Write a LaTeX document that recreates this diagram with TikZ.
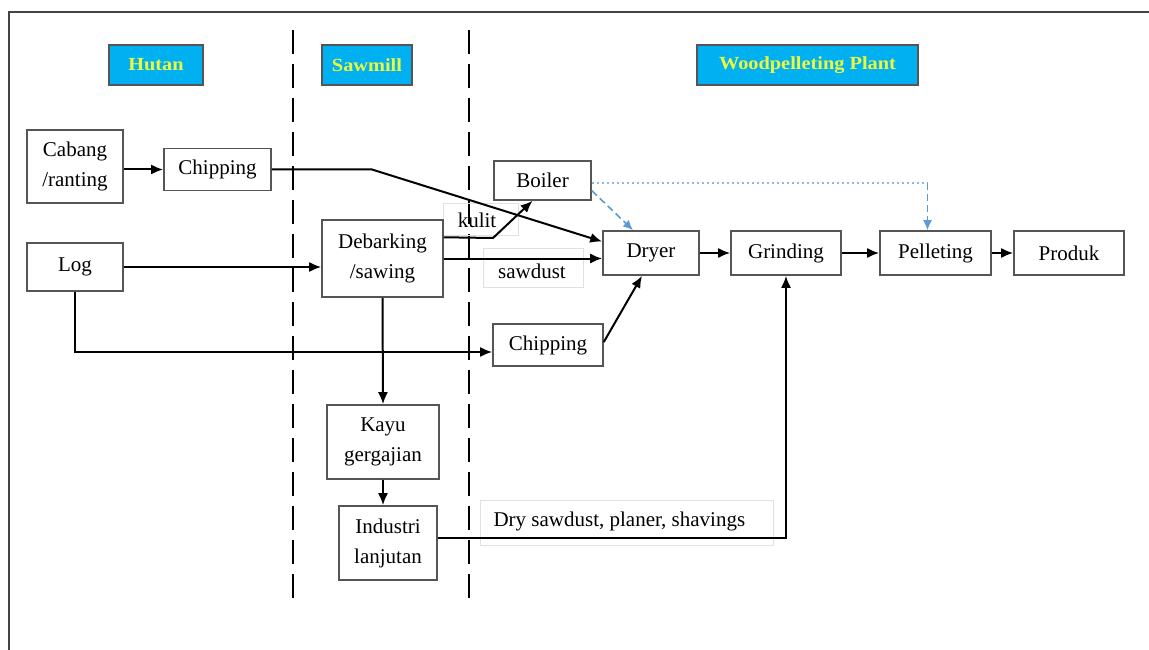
\documentclass[tikz,border=0pt]{standalone}
\usepackage{fontspec}
\setmainfont{Liberation Serif}
\usepackage{graphicx}
\usetikzlibrary{arrows.meta,calc}
\definecolor{hdrfill}{RGB}{0,176,240}
\definecolor{hdrtext}{RGB}{238,248,60}
\definecolor{boxline}{RGB}{85,85,85}
\definecolor{bluedash}{RGB}{91,155,213}
\definecolor{faint}{RGB}{225,225,225}
\tikzset{
  every node/.style={font=\fontsize{21}{30}\selectfont},
  pbox/.style={draw=boxline, line width=1.6pt, fill=white, inner sep=0pt, align=center},
  hdr/.style={draw=boxline, line width=1.5pt, fill=hdrfill, text=hdrtext, inner sep=0pt,
    minimum height=40pt, font=\fontsize{18.5}{20}\selectfont\bfseries},
  conn/.style={line width=2pt, -{Latex[length=12pt,width=10pt]}},
  sep/.style={line width=2.5pt, dash pattern=on 24pt off 10pt},
  lbl/.style={draw=faint, line width=0.8pt, inner sep=0pt},
  bluearrow/.style={bluedash, line width=1.6pt, dash pattern=on 7pt off 4pt, -{Latex[length=10pt,width=9pt]}},
  bluedot/.style={bluedash!70, line width=1.5pt, dash pattern=on 2pt off 3pt}
}
\begin{document}
\begin{tikzpicture}[x=1pt,y=-1pt]
\useasboundingbox (0,0) rectangle (1149,650);
% frame
\draw[boxline!80!black, line width=2.2pt] (9,650) -- (9,12) -- (1149,12);
% separators
\draw[sep] (293,30) -- (293,605);
\draw[sep] (469,30) -- (469,605);
% headers
\node[hdr, minimum width=94pt] (hhutan) at (156,65) {\scalebox{1.1}[1]{Hutan}};
\node[hdr, minimum width=90pt] (hsaw) at (367,65) {\scalebox{1.1}[1]{Sawmill}};
\node[hdr, minimum width=221pt] (hwood) at (807.5,65) {\scalebox{1.1}[1]{Woodpelleting Plant}};
% label boxes (behind)
\node[lbl, minimum width=75pt, minimum height=32pt] (lkulitbox) at (480.5,219) {};
\node at (477,220) (lkulit) {kulit};
\node[lbl, minimum width=100pt, minimum height=39pt] (lsawbox) at (533,267.5) {};
\node at (532,271) (lsaw) {sawdust};
\node[lbl, minimum width=293pt, minimum height=45pt] (ldrybox) at (626.5,522.5) {};
\node[anchor=west] (ldry) at (490,521) {Dry sawdust, planer, shavings};
% process boxes
\node[pbox, minimum width=96pt, minimum height=73pt] (cabang) at (75,166.5) {Cabang\\/ranting};
\node[pbox, minimum width=107pt, minimum height=42pt] (chipa) at (217.5,169.5) {Chipping};
\node[pbox, minimum width=96pt, minimum height=48pt] (log) at (75,267) {Log};
\node[pbox, minimum width=121pt, minimum height=77pt] (deb) at (382.5,258.5) {Debarking\\/sawing};
\node[pbox, minimum width=97pt, minimum height=39pt] (boiler) at (542.5,180.5) {Boiler};
\node[pbox, minimum width=96pt, minimum height=44pt] (dryer) at (651,253) {Dryer};
\node[pbox, minimum width=110pt, minimum height=44pt] (grind) at (786,253) {Grinding};
\node[pbox, minimum width=111pt, minimum height=44pt] (pellet) at (935.5,253) {Pelleting};
\node[pbox, minimum width=110pt, minimum height=44pt] (produk) at (1069,253) {Produk};
\node[pbox, minimum width=110pt, minimum height=42pt] (chipb) at (548,345) {Chipping};
\node[pbox, minimum width=112pt, minimum height=74pt] (kayu) at (383,442) {Kayu\\gergajian};
\node[pbox, minimum width=98pt, minimum height=74pt] (ind) at (388,543) {Industri\\lanjutan};
% connectors
\draw[conn] (cabang.east |- chipa.west) -- (chipa.west);
\coordinate (c1) at (372,169.5);
\draw[conn] (chipa.east) -- (c1) -- ($(dryer.north west)!0.25!(dryer.south west)$);
\draw[conn] (log.east) -- (log.east -| deb.west);
\draw[conn] (log.south) |- ([yshift=-7pt]chipb.west);
\coordinate (c2) at (493,238);
\draw[conn] ($(deb.north east)!0.23!(deb.south east)$) -- (c2) -- ([xshift=-10pt]boiler.south);
\draw[conn] (deb.east) -- (deb.east -| dryer.west);
\draw[conn] ([yshift=3pt]chipb.east) -- ([xshift=-9pt]dryer.south);
\draw[bluearrow] ($(boiler.north east)!0.75!(boiler.south east)$) -- ([xshift=-18pt]dryer.north);
\coordinate (c3) at ([xshift=-8pt]pellet.north |- boiler.east);
\draw[bluedot] ([yshift=-2.5pt]boiler.east) -- ([yshift=-2.5pt]c3);
\draw[bluearrow] ([yshift=-2.5pt]c3) -- ([xshift=-8pt]pellet.north);
\draw[conn] (dryer.east) -- (grind.west);
\draw[conn] (grind.east) -- (pellet.west);
\draw[conn] (pellet.east) -- (produk.west);
\draw[conn] (deb.south) -- (kayu.north);
\draw[conn] (kayu.south) -- (kayu.south |- ind.north);
\draw[conn] ([yshift=5pt]ind.east) -| (grind.south);
\end{tikzpicture}
\end{document}
